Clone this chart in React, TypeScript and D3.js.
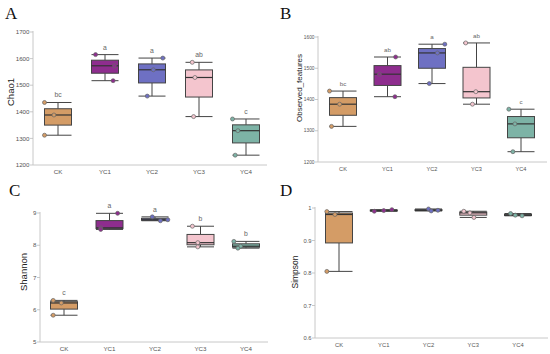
import React from "react";
import * as d3 from "d3";

const categories = ["CK", "YC1", "YC2", "YC3", "YC4"];
const colors = ["#D49C66", "#8E2D8E", "#6E70C3", "#F4C5CE", "#7DB3A6"];

const chao1 = [[1435, 1388, 1312], [1615, 1573, 1517], [1602, 1558, 1459], [1586, 1529, 1382], [1373, 1329, 1237]];
const observed = [[1427, 1385, 1314], [1536, 1481, 1409], [1577, 1549, 1451], [1581, 1425, 1385], [1369, 1322, 1233]];
const shannon = [[6.29, 6.21, 5.83], [8.99, 8.54, 8.49], [8.88, 8.79, 8.76], [8.59, 8.08, 7.95], [8.12, 7.97, 7.91]];
const simpson = [[0.989, 0.98, 0.805], [0.995, 0.992, 0.99], [0.997, 0.993, 0.991], [0.99, 0.985, 0.971], [0.983, 0.978, 0.976]];

const lettersA = ["bc", "a", "a", "ab", "c"];
const lettersB = ["bc", "ab", "a", "ab", "c"];
const lettersC = ["c", "a", "a", "b", "b"];

const ticksA = [1200, 1300, 1400, 1500, 1600, 1700];
const ticksB = [1200, 1300, 1400, 1500, 1600];
const ticksC = [5, 6, 7, 8, 9];
const ticksD = [0.6, 0.7, 0.8, 0.9, 1];

// observed horizontal jitter of the replicate points (fraction of half box width)
const jitterA = [[-1, -0.3, -1], [-0.7, 0.7, 0.6], [0.8, 0.1, -0.35], [-0.5, -0.3, -0.4], [-1, -0.6, -0.8]];
const jitterB = [[-1, -0.25, -0.85], [0.6, -0.6, 0.55], [0.95, 0.4, -0.2], [-0.8, -0.05, -0.3], [-0.9, -0.45, -0.6]];
const jitterC = [[-0.8, -0.2, -0.8], [0.6, -0.65, -0.65], [-0.2, 0.95, 0.4], [-0.6, -0.2, -0.2], [-0.9, -0.4, -0.6]];
const jitterD = [[-0.9, -0.3, -0.9], [0.6, 0, -0.7], [0, 0.7, 0.2], [-0.7, -0.25, 0.05], [-0.55, -0.2, 0.3]];

type PanelProps = {
  letter: string;
  title: string;
  data: number[][];
  letters?: string[];
  ticks: number[];
  jitter: number[][];
  axisX: number;
  axisEnd: number;
  yTop: number;
  yBottom: number;
  catStart: number;
  catEnd: number;
  letterX: number;
  letterY: number;
  titleX: number;
  titleY: number;
  titleSize: number;
  tickSize: number;
  fmt?: (v: number) => string;
};

const sans = "Liberation Sans, Arial, sans-serif";

function Panel(p: PanelProps) {
  const domain = [p.ticks[0], p.ticks[p.ticks.length - 1]];
  const y = d3.scaleLinear().domain(domain).range([p.yBottom, p.yTop]);
  const x = d3.scalePoint<string>().domain(categories).range([p.catStart, p.catEnd]);
  const bw = 27;
  const fmt = p.fmt || ((v: number) => String(v));
  const ts = p.tickSize;
  return (
    <g>
      <text x={p.letterX} y={p.letterY} fontFamily="Liberation Serif, serif" fontSize={17} fill="#111">{p.letter}</text>
      <text transform={`translate(${p.titleX},${p.titleY}) rotate(-90)`} textAnchor="middle" fontFamily={sans} fontSize={p.titleSize} fill="#222">{p.title}</text>
      <line x1={p.axisX} x2={p.axisX} y1={p.yTop - 1} y2={p.yBottom} stroke="#c8c8c8" strokeWidth={1} />
      <line x1={p.axisX} x2={p.axisEnd} y1={p.yBottom} y2={p.yBottom} stroke="#c8c8c8" strokeWidth={1} />
      {p.ticks.map((t) => (
        <g key={t}>
          <line x1={p.axisX - 3} x2={p.axisX} y1={y(t)} y2={y(t)} stroke="#bbb" strokeWidth={0.8} />
          <text x={p.axisX - 3.5} y={y(t) + ts * 0.36} textAnchor="end" fontFamily={sans} fontSize={ts} fill="#555">{fmt(t)}</text>
        </g>
      ))}
      {categories.map((c) => (
        <text key={c} x={x(c)} y={p.yBottom + 9} textAnchor="middle" fontFamily={sans} fontSize={Math.max(ts, 5.6)} fill="#555">{c}</text>
      ))}
      {p.data.map((vals, i) => {
        const s = [...vals].sort(d3.ascending);
        const q1 = d3.quantile(s, 0.25)!;
        const med = d3.quantile(s, 0.5)!;
        const q3 = d3.quantile(s, 0.75)!;
        const mn = s[0];
        const mx = s[s.length - 1];
        const cx = x(categories[i])!;
        const l = cx - bw / 2;
        const r = cx + bw / 2;
        return (
          <g key={i}>
            <line x1={cx} x2={cx} y1={y(mx)} y2={y(q3)} stroke="#444" strokeWidth={1} />
            <line x1={cx} x2={cx} y1={y(q1)} y2={y(mn)} stroke="#444" strokeWidth={1} />
            <line x1={l} x2={r} y1={y(mx)} y2={y(mx)} stroke="#444" strokeWidth={1} />
            <line x1={l} x2={r} y1={y(mn)} y2={y(mn)} stroke="#444" strokeWidth={1} />
            <rect x={l} y={y(q3)} width={bw} height={Math.max(0.5, y(q1) - y(q3))} fill={colors[i]} stroke="#444" strokeWidth={1} />
            <line x1={l} x2={r} y1={y(med)} y2={y(med)} stroke="#333" strokeWidth={1.2} />
            {vals.map((v, j) => (
              <circle key={j} cx={cx + p.jitter[i][j] * (bw / 2)} cy={y(v)} r={2} fill={colors[i]} stroke="#666" strokeWidth={0.7} />
            ))}
            {p.letters && (
              <text x={cx} y={y(mx) - 5} textAnchor="middle" fontFamily={sans} fontSize={Math.max(ts, 5.6) + 0.6} fill="#666">{p.letters[i]}</text>
            )}
          </g>
        );
      })}
    </g>
  );
}

export default function App() {
  return (
    <svg width={550} height={354} style={{ position: "absolute", left: 0, top: 0, background: "#fff" }}>
      <rect width={550} height={354} fill="#fff" />
      <Panel letter="A" title="Chao1" data={chao1} letters={lettersA} ticks={ticksA} jitter={jitterA}
        axisX={33} axisEnd={267} yTop={32} yBottom={165} catStart={58} catEnd={246}
        letterX={5} letterY={19} titleX={13.5} titleY={92} titleSize={9.5} tickSize={6.2} />
      <Panel letter="B" title="Observed_features" data={observed} letters={lettersB} ticks={ticksB} jitter={jitterB}
        axisX={318} axisEnd={547} yTop={37} yBottom={162} catStart={343} catEnd={521}
        letterX={280} letterY={19} titleX={302} titleY={88} titleSize={8} tickSize={4.8} />
      <Panel letter="C" title="Shannon" data={shannon} letters={lettersC} ticks={ticksC} jitter={jitterC}
        axisX={40} axisEnd={268} yTop={213} yBottom={342} catStart={64} catEnd={246}
        letterX={9} letterY={196} titleX={26.5} titleY={272} titleSize={9.5} tickSize={6.2} />
      <Panel letter="D" title="Simpson" data={simpson} ticks={ticksD} jitter={jitterD}
        axisX={315} axisEnd={548} yTop={208} yBottom={338} catStart={339} catEnd={518}
        letterX={280} letterY={196} titleX={297.5} titleY={272} titleSize={8.5} tickSize={5.8} fmt={(v) => (v === 1 ? "1" : v.toFixed(1))} />
    </svg>
  );
}
